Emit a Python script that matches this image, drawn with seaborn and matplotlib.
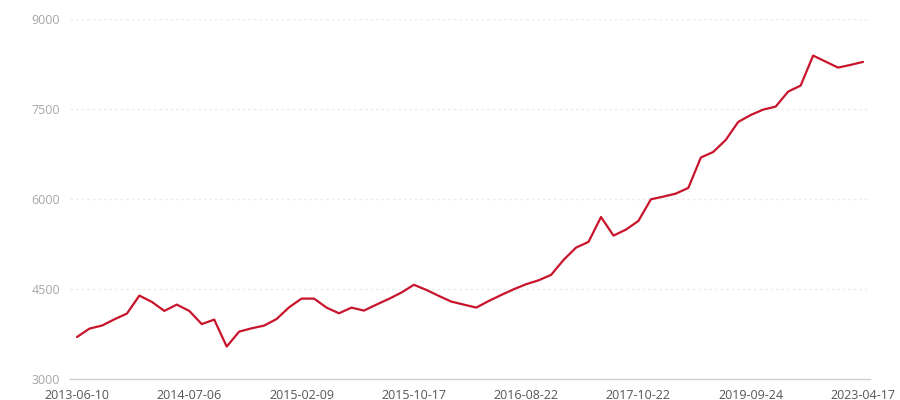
import matplotlib
matplotlib.use('Agg')
import numpy as np
import pandas as pd
import matplotlib.pyplot as plt
import seaborn as sns

# values, one per category (64 points)
values = [3700, 3840, 3890, 3995, 4090, 4390, 4285, 4135, 4240, 4135,
          3915, 3990, 3540, 3790, 3845, 3890, 4000, 4195, 4340, 4340,
          4190, 4095, 4190, 4140, 4240, 4335, 4440, 4570, 4485, 4385,
          4290, 4240, 4190, 4300, 4400, 4495, 4580, 4645, 4735, 4985,
          5190, 5285, 5700, 5390, 5490, 5635, 5995, 6040, 6090, 6185,
          6690, 6785, 6985, 7285, 7400, 7490, 7540, 7790, 7890, 8390,
          8290, 8190, 8235, 8285]
tick_labels = ['2013-06-10', '2014-07-06', '2015-02-09', '2015-10-17',
               '2016-08-22', '2017-10-22', '2019-09-24', '2023-04-17']
y_ticks = [3000, 4500, 6000, 7500, 9000]

df = pd.DataFrame({'idx': np.arange(len(values)), 'value': values})

sns.set_style('white')
plt.rcParams['font.family'] = ['Open Sans', 'DejaVu Sans']

fig = plt.figure(figsize=(9, 4), dpi=100)
ax = fig.add_axes([70 / 900, 21 / 400, 800 / 900, 360 / 400])

sns.lineplot(data=df, x='idx', y='value', ax=ax, color='#c8142b', linewidth=1.6)

ax.set_xlim(-0.56, len(values) - 1 + 0.56)
ax.set_ylim(3000, 9000)
ax.set_yticks(y_ticks)
ax.set_yticklabels([str(t) for t in y_ticks])
ax.set_xticks(np.arange(0, len(values), 9))
ax.set_xticklabels(tick_labels)
ax.set_xlabel('')
ax.set_ylabel('')

# light dotted grid lines
for t in y_ticks[1:]:
    ax.axhline(t, color='#ececec', linewidth=1, linestyle=(0, (2, 2)), zorder=0)

for s in ['top', 'right', 'left']:
    ax.spines[s].set_visible(False)
ax.spines['bottom'].set_color('#cccccc')
ax.spines['bottom'].set_linewidth(1)

ax.tick_params(axis='y', length=0, pad=7, labelsize=9, labelcolor='#a6a6a6')
ax.tick_params(axis='x', length=4, width=1, color='#cccccc', pad=3,
               labelsize=9, labelcolor='#555555', direction='out')

fig.savefig('out.png', dpi=100)
